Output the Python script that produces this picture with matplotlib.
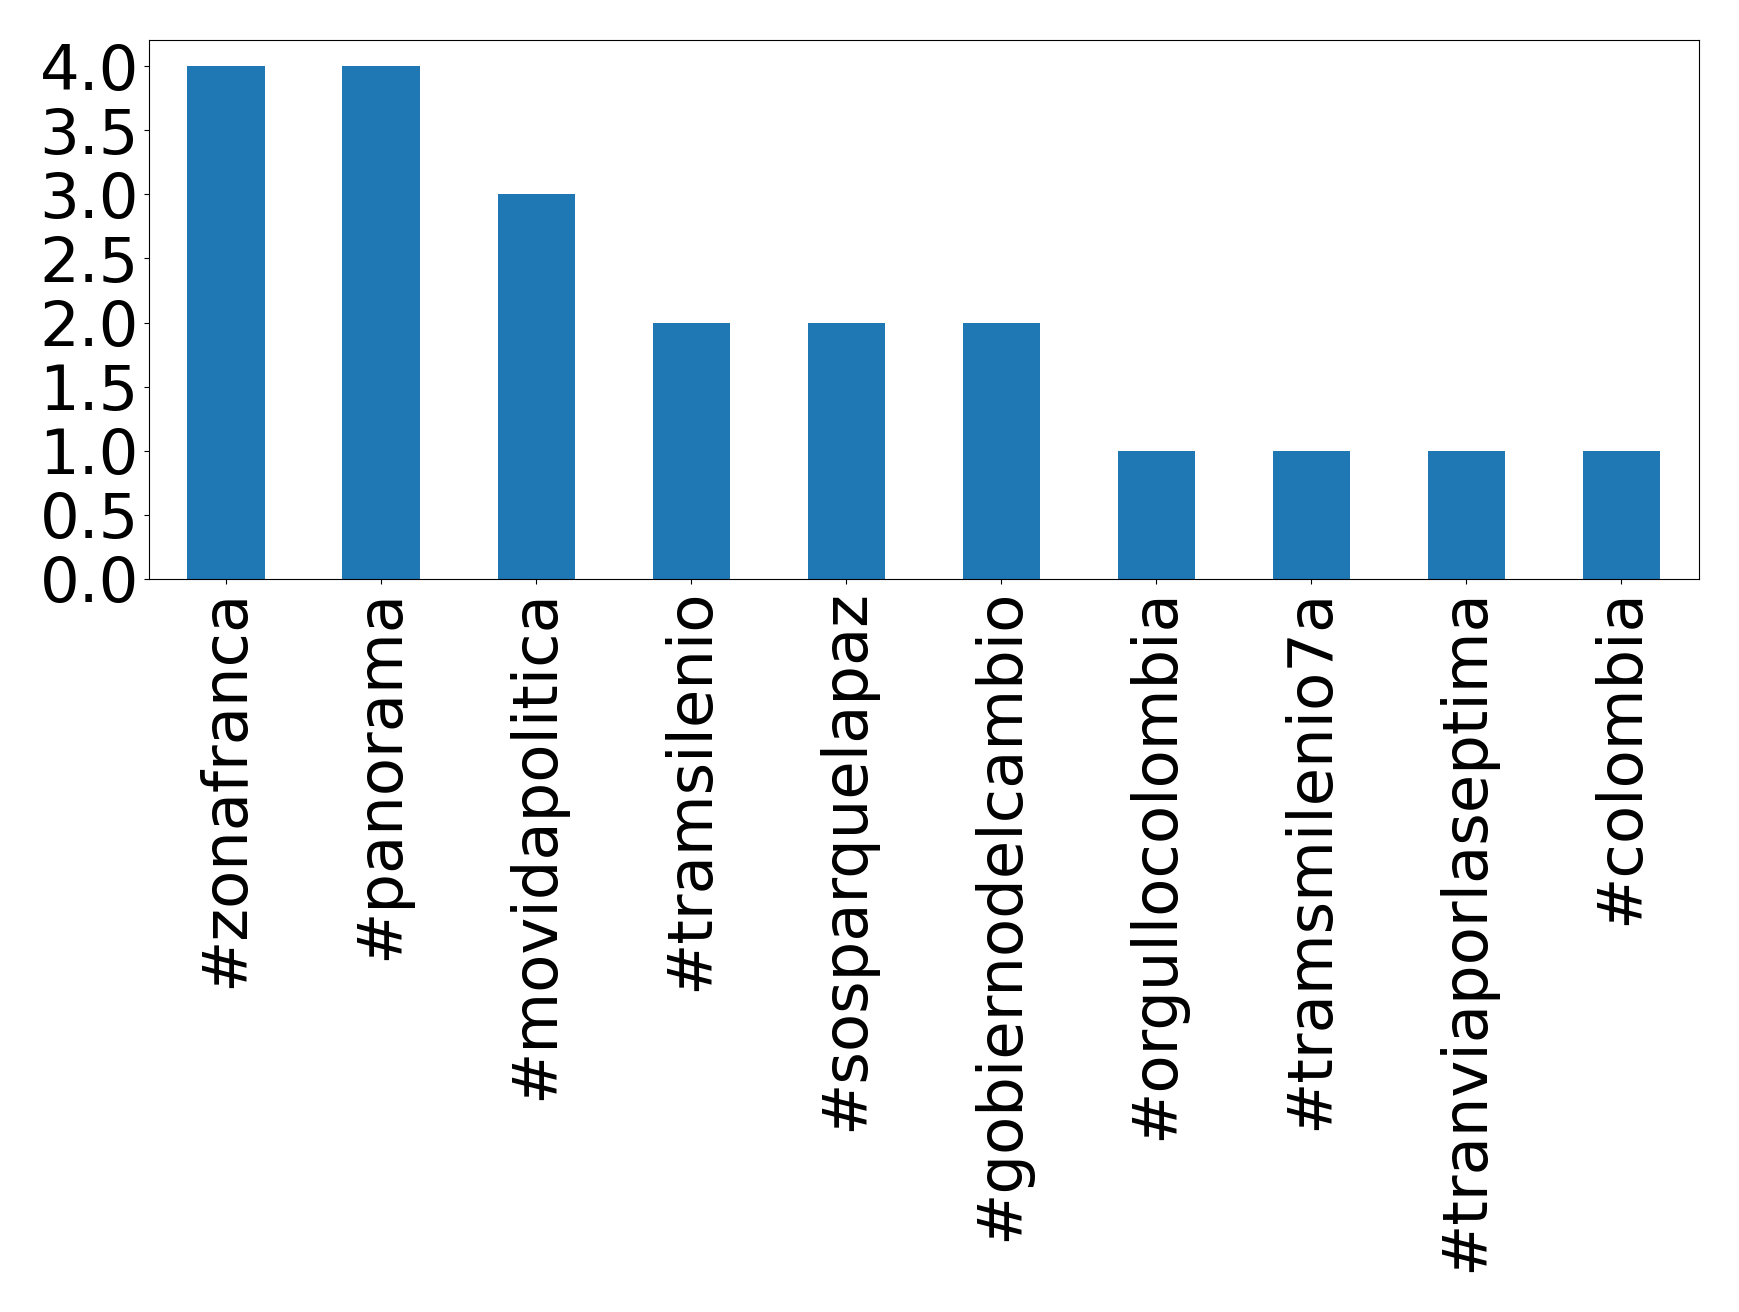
import matplotlib
matplotlib.use('Agg')
import matplotlib.pyplot as plt
import pandas as pd

# --- data ---
hashtags = ['#zonafranca', '#panorama', '#movidapolitica', '#tramsilenio',
            '#sosparquelapaz', '#gobiernodelcambio', '#orgullocolombia',
            '#tramsmilenio7a', '#tranviaporlaseptima', '#colombia']
counts = [4, 4, 3, 2, 2, 2, 1, 1, 1, 1]

s = pd.Series(counts, index=hashtags)

fig = plt.figure(figsize=(17.39, 13.12), dpi=100)
ax = fig.add_axes([0.0855, 0.5587, 0.8915, 0.4105])
s.plot(kind='bar', ax=ax, color='#1f77b4')
ax.tick_params(axis='both', labelsize=45)
ax.set_yticks([0, 0.5, 1, 1.5, 2, 2.5, 3, 3.5, 4])
ax.set_yticklabels(['0.0', '0.5', '1.0', '1.5', '2.0', '2.5', '3.0', '3.5', '4.0'])
plt.setp(ax.get_xticklabels(), rotation=90)

plt.savefig('out.png', dpi=100)
